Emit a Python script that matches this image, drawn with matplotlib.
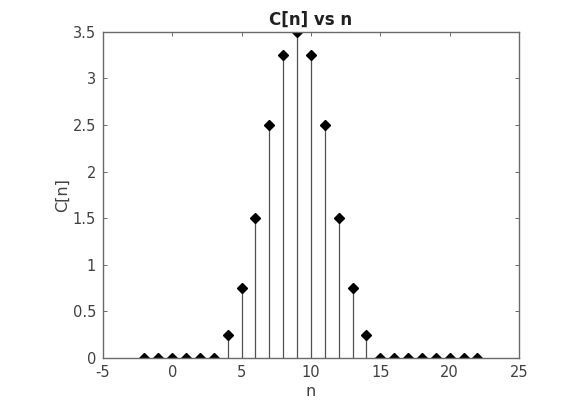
import matplotlib
matplotlib.use("Agg")
import matplotlib.pyplot as plt

n = list(range(-2, 23))
C = [0, 0, 0, 0, 0, 0, 0.25, 0.75, 1.5, 2.5, 3.25, 3.5, 3.25, 2.5, 1.5, 0.75, 0.25,
     0, 0, 0, 0, 0, 0, 0, 0]
xticks = [-5, 0, 5, 10, 15, 20, 25]
yticks = [0, 0.5, 1, 1.5, 2, 2.5, 3, 3.5]
ytick_labels = ["0", "0.5", "1", "1.5", "2", "2.5", "3", "3.5"]

fig = plt.figure(figsize=(5.78, 4.04), dpi=100)
ax = fig.add_axes([0.178, 0.114, 0.72, 0.807])

axcol = "#6a6a6a"
txtcol = "#404040"
ax.vlines(n, 0, C, colors="#505050", linewidth=0.9)
ax.plot(n, C, linestyle="none", marker="D", markersize=5.5, color="black")

ax.set_xlim(-5, 25)
ax.set_ylim(0, 3.5)
ax.set_xticks(xticks)
ax.set_xticklabels([str(t) for t in xticks])
ax.set_yticks(yticks)
ax.set_yticklabels(ytick_labels)
for s in ax.spines.values():
    s.set_color(axcol)
    s.set_linewidth(1.0)
ax.tick_params(direction="in", length=3, width=0.7, colors=axcol, labelsize=10.5,
               top=True, right=True, pad=5)
ax.set_xlabel("n", fontsize=11.5, color=txtcol, labelpad=3)
ax.set_ylabel("C[n]", fontsize=11.5, color=txtcol, labelpad=2)
ax.set_title("C[n] vs n", fontsize=12, fontweight="bold", pad=5, color="#202020")
for lbl in ax.get_xticklabels() + ax.get_yticklabels():
    lbl.set_color(txtcol)

fig.savefig("out.png", dpi=100)
